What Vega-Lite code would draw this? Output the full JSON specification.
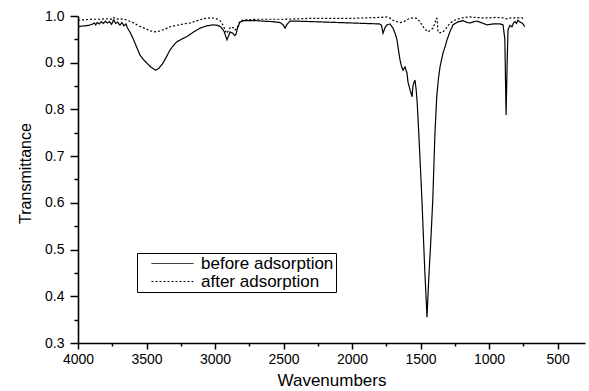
{
  "$schema": "https://vega.github.io/schema/vega-lite/v6.json",
  "autosize": {"type": "none"},
  "padding": {"left": 78, "top": 16, "right": 4, "bottom": 48},
  "width": 507,
  "height": 327,
  "background": "white",
  "config": {
    "view": {"stroke": null},
    "font": "Liberation Sans",
    "axis": {"grid": false, "domainColor": "black", "domainWidth": 1.6, "tickColor": "black", "tickWidth": 1.5, "labelColor": "black", "labelFontSize": 14, "labelFont": "Liberation Sans", "titleFont": "Liberation Sans", "titleColor": "black", "titleFontWeight": "normal", "labelOverlap": false, "labelFlush": false}
  },
  "datasets": {
    "spectra": [
      {"wn": 4000, "t": 0.977, "series": "before adsorption"},
      {"wn": 3980, "t": 0.978, "series": "before adsorption"},
      {"wn": 3950, "t": 0.979, "series": "before adsorption"},
      {"wn": 3920, "t": 0.98, "series": "before adsorption"},
      {"wn": 3900, "t": 0.982, "series": "before adsorption"},
      {"wn": 3880, "t": 0.985, "series": "before adsorption"},
      {"wn": 3870, "t": 0.981, "series": "before adsorption"},
      {"wn": 3860, "t": 0.986, "series": "before adsorption"},
      {"wn": 3845, "t": 0.983, "series": "before adsorption"},
      {"wn": 3830, "t": 0.988, "series": "before adsorption"},
      {"wn": 3815, "t": 0.984, "series": "before adsorption"},
      {"wn": 3800, "t": 0.989, "series": "before adsorption"},
      {"wn": 3785, "t": 0.985, "series": "before adsorption"},
      {"wn": 3770, "t": 0.988, "series": "before adsorption"},
      {"wn": 3755, "t": 0.982, "series": "before adsorption"},
      {"wn": 3740, "t": 0.992, "series": "before adsorption"},
      {"wn": 3725, "t": 0.984, "series": "before adsorption"},
      {"wn": 3710, "t": 0.987, "series": "before adsorption"},
      {"wn": 3695, "t": 0.98, "series": "before adsorption"},
      {"wn": 3680, "t": 0.986, "series": "before adsorption"},
      {"wn": 3665, "t": 0.979, "series": "before adsorption"},
      {"wn": 3650, "t": 0.983, "series": "before adsorption"},
      {"wn": 3640, "t": 0.975, "series": "before adsorption"},
      {"wn": 3620, "t": 0.965, "series": "before adsorption"},
      {"wn": 3600, "t": 0.953, "series": "before adsorption"},
      {"wn": 3570, "t": 0.932, "series": "before adsorption"},
      {"wn": 3547, "t": 0.916, "series": "before adsorption"},
      {"wn": 3520, "t": 0.906, "series": "before adsorption"},
      {"wn": 3497, "t": 0.899, "series": "before adsorption"},
      {"wn": 3470, "t": 0.891, "series": "before adsorption"},
      {"wn": 3433, "t": 0.884, "series": "before adsorption"},
      {"wn": 3410, "t": 0.888, "series": "before adsorption"},
      {"wn": 3380, "t": 0.899, "series": "before adsorption"},
      {"wn": 3350, "t": 0.915, "series": "before adsorption"},
      {"wn": 3329, "t": 0.927, "series": "before adsorption"},
      {"wn": 3300, "t": 0.938, "series": "before adsorption"},
      {"wn": 3278, "t": 0.945, "series": "before adsorption"},
      {"wn": 3240, "t": 0.951, "series": "before adsorption"},
      {"wn": 3205, "t": 0.956, "series": "before adsorption"},
      {"wn": 3160, "t": 0.965, "series": "before adsorption"},
      {"wn": 3110, "t": 0.974, "series": "before adsorption"},
      {"wn": 3060, "t": 0.979, "series": "before adsorption"},
      {"wn": 3015, "t": 0.981, "series": "before adsorption"},
      {"wn": 2980, "t": 0.98, "series": "before adsorption"},
      {"wn": 2960, "t": 0.977, "series": "before adsorption"},
      {"wn": 2935, "t": 0.968, "series": "before adsorption"},
      {"wn": 2920, "t": 0.955, "series": "before adsorption"},
      {"wn": 2913, "t": 0.949, "series": "before adsorption"},
      {"wn": 2900, "t": 0.958, "series": "before adsorption"},
      {"wn": 2891, "t": 0.966, "series": "before adsorption"},
      {"wn": 2870, "t": 0.963, "series": "before adsorption"},
      {"wn": 2855, "t": 0.958, "series": "before adsorption"},
      {"wn": 2847, "t": 0.961, "series": "before adsorption"},
      {"wn": 2835, "t": 0.975, "series": "before adsorption"},
      {"wn": 2818, "t": 0.987, "series": "before adsorption"},
      {"wn": 2790, "t": 0.99, "series": "before adsorption"},
      {"wn": 2767, "t": 0.99, "series": "before adsorption"},
      {"wn": 2700, "t": 0.99, "series": "before adsorption"},
      {"wn": 2650, "t": 0.989, "series": "before adsorption"},
      {"wn": 2580, "t": 0.988, "series": "before adsorption"},
      {"wn": 2526, "t": 0.986, "series": "before adsorption"},
      {"wn": 2505, "t": 0.982, "series": "before adsorption"},
      {"wn": 2489, "t": 0.974, "series": "before adsorption"},
      {"wn": 2475, "t": 0.982, "series": "before adsorption"},
      {"wn": 2453, "t": 0.989, "series": "before adsorption"},
      {"wn": 2400, "t": 0.989, "series": "before adsorption"},
      {"wn": 2300, "t": 0.988, "series": "before adsorption"},
      {"wn": 2200, "t": 0.987, "series": "before adsorption"},
      {"wn": 2100, "t": 0.986, "series": "before adsorption"},
      {"wn": 2000, "t": 0.985, "series": "before adsorption"},
      {"wn": 1900, "t": 0.984, "series": "before adsorption"},
      {"wn": 1800, "t": 0.983, "series": "before adsorption"},
      {"wn": 1785, "t": 0.98, "series": "before adsorption"},
      {"wn": 1774, "t": 0.963, "series": "before adsorption"},
      {"wn": 1760, "t": 0.975, "series": "before adsorption"},
      {"wn": 1745, "t": 0.981, "series": "before adsorption"},
      {"wn": 1723, "t": 0.983, "series": "before adsorption"},
      {"wn": 1701, "t": 0.974, "series": "before adsorption"},
      {"wn": 1685, "t": 0.962, "series": "before adsorption"},
      {"wn": 1672, "t": 0.949, "series": "before adsorption"},
      {"wn": 1660, "t": 0.925, "series": "before adsorption"},
      {"wn": 1650, "t": 0.906, "series": "before adsorption"},
      {"wn": 1640, "t": 0.893, "series": "before adsorption"},
      {"wn": 1628, "t": 0.884, "series": "before adsorption"},
      {"wn": 1614, "t": 0.891, "series": "before adsorption"},
      {"wn": 1599, "t": 0.878, "series": "before adsorption"},
      {"wn": 1592, "t": 0.859, "series": "before adsorption"},
      {"wn": 1575, "t": 0.84, "series": "before adsorption"},
      {"wn": 1562, "t": 0.827, "series": "before adsorption"},
      {"wn": 1555, "t": 0.852, "series": "before adsorption"},
      {"wn": 1541, "t": 0.863, "series": "before adsorption"},
      {"wn": 1533, "t": 0.845, "series": "before adsorption"},
      {"wn": 1526, "t": 0.82, "series": "before adsorption"},
      {"wn": 1519, "t": 0.784, "series": "before adsorption"},
      {"wn": 1505, "t": 0.7, "series": "before adsorption"},
      {"wn": 1490, "t": 0.606, "series": "before adsorption"},
      {"wn": 1470, "t": 0.46, "series": "before adsorption"},
      {"wn": 1453, "t": 0.355, "series": "before adsorption"},
      {"wn": 1440, "t": 0.44, "series": "before adsorption"},
      {"wn": 1425, "t": 0.52, "series": "before adsorption"},
      {"wn": 1411, "t": 0.606, "series": "before adsorption"},
      {"wn": 1395, "t": 0.749, "series": "before adsorption"},
      {"wn": 1382, "t": 0.827, "series": "before adsorption"},
      {"wn": 1370, "t": 0.865, "series": "before adsorption"},
      {"wn": 1358, "t": 0.891, "series": "before adsorption"},
      {"wn": 1336, "t": 0.921, "series": "before adsorption"},
      {"wn": 1320, "t": 0.935, "series": "before adsorption"},
      {"wn": 1307, "t": 0.949, "series": "before adsorption"},
      {"wn": 1285, "t": 0.967, "series": "before adsorption"},
      {"wn": 1263, "t": 0.981, "series": "before adsorption"},
      {"wn": 1230, "t": 0.987, "series": "before adsorption"},
      {"wn": 1190, "t": 0.99, "series": "before adsorption"},
      {"wn": 1160, "t": 0.986, "series": "before adsorption"},
      {"wn": 1139, "t": 0.985, "series": "before adsorption"},
      {"wn": 1110, "t": 0.988, "series": "before adsorption"},
      {"wn": 1088, "t": 0.989, "series": "before adsorption"},
      {"wn": 1050, "t": 0.985, "series": "before adsorption"},
      {"wn": 1015, "t": 0.981, "series": "before adsorption"},
      {"wn": 970, "t": 0.983, "series": "before adsorption"},
      {"wn": 920, "t": 0.983, "series": "before adsorption"},
      {"wn": 898, "t": 0.981, "series": "before adsorption"},
      {"wn": 885, "t": 0.95, "series": "before adsorption"},
      {"wn": 876, "t": 0.788, "series": "before adsorption"},
      {"wn": 868, "t": 0.9, "series": "before adsorption"},
      {"wn": 862, "t": 0.97, "series": "before adsorption"},
      {"wn": 848, "t": 0.98, "series": "before adsorption"},
      {"wn": 833, "t": 0.977, "series": "before adsorption"},
      {"wn": 820, "t": 0.986, "series": "before adsorption"},
      {"wn": 811, "t": 0.988, "series": "before adsorption"},
      {"wn": 800, "t": 0.984, "series": "before adsorption"},
      {"wn": 789, "t": 0.991, "series": "before adsorption"},
      {"wn": 775, "t": 0.987, "series": "before adsorption"},
      {"wn": 760, "t": 0.985, "series": "before adsorption"},
      {"wn": 750, "t": 0.982, "series": "before adsorption"},
      {"wn": 740, "t": 0.977, "series": "before adsorption"},
      {"wn": 4000, "t": 0.991, "series": "after adsorption"},
      {"wn": 3950, "t": 0.992, "series": "after adsorption"},
      {"wn": 3900, "t": 0.993, "series": "after adsorption"},
      {"wn": 3850, "t": 0.993, "series": "after adsorption"},
      {"wn": 3800, "t": 0.994, "series": "after adsorption"},
      {"wn": 3760, "t": 0.993, "series": "after adsorption"},
      {"wn": 3740, "t": 0.997, "series": "after adsorption"},
      {"wn": 3720, "t": 0.993, "series": "after adsorption"},
      {"wn": 3700, "t": 0.994, "series": "after adsorption"},
      {"wn": 3660, "t": 0.993, "series": "after adsorption"},
      {"wn": 3640, "t": 0.991, "series": "after adsorption"},
      {"wn": 3600, "t": 0.986, "series": "after adsorption"},
      {"wn": 3550, "t": 0.978, "series": "after adsorption"},
      {"wn": 3500, "t": 0.972, "series": "after adsorption"},
      {"wn": 3470, "t": 0.968, "series": "after adsorption"},
      {"wn": 3438, "t": 0.966, "series": "after adsorption"},
      {"wn": 3400, "t": 0.968, "series": "after adsorption"},
      {"wn": 3360, "t": 0.973, "series": "after adsorption"},
      {"wn": 3329, "t": 0.977, "series": "after adsorption"},
      {"wn": 3280, "t": 0.98, "series": "after adsorption"},
      {"wn": 3230, "t": 0.983, "series": "after adsorption"},
      {"wn": 3183, "t": 0.985, "series": "after adsorption"},
      {"wn": 3130, "t": 0.99, "series": "after adsorption"},
      {"wn": 3073, "t": 0.995, "series": "after adsorption"},
      {"wn": 3030, "t": 0.996, "series": "after adsorption"},
      {"wn": 3000, "t": 0.995, "series": "after adsorption"},
      {"wn": 2980, "t": 0.993, "series": "after adsorption"},
      {"wn": 2964, "t": 0.99, "series": "after adsorption"},
      {"wn": 2940, "t": 0.98, "series": "after adsorption"},
      {"wn": 2925, "t": 0.968, "series": "after adsorption"},
      {"wn": 2913, "t": 0.963, "series": "after adsorption"},
      {"wn": 2900, "t": 0.97, "series": "after adsorption"},
      {"wn": 2885, "t": 0.977, "series": "after adsorption"},
      {"wn": 2869, "t": 0.975, "series": "after adsorption"},
      {"wn": 2855, "t": 0.97, "series": "after adsorption"},
      {"wn": 2840, "t": 0.973, "series": "after adsorption"},
      {"wn": 2825, "t": 0.985, "series": "after adsorption"},
      {"wn": 2811, "t": 0.99, "series": "after adsorption"},
      {"wn": 2780, "t": 0.992, "series": "after adsorption"},
      {"wn": 2700, "t": 0.993, "series": "after adsorption"},
      {"wn": 2600, "t": 0.993, "series": "after adsorption"},
      {"wn": 2500, "t": 0.993, "series": "after adsorption"},
      {"wn": 2400, "t": 0.994, "series": "after adsorption"},
      {"wn": 2300, "t": 0.995, "series": "after adsorption"},
      {"wn": 2200, "t": 0.995, "series": "after adsorption"},
      {"wn": 2100, "t": 0.995, "series": "after adsorption"},
      {"wn": 2000, "t": 0.995, "series": "after adsorption"},
      {"wn": 1900, "t": 0.996, "series": "after adsorption"},
      {"wn": 1800, "t": 0.997, "series": "after adsorption"},
      {"wn": 1745, "t": 0.998, "series": "after adsorption"},
      {"wn": 1720, "t": 0.995, "series": "after adsorption"},
      {"wn": 1701, "t": 0.991, "series": "after adsorption"},
      {"wn": 1675, "t": 0.988, "series": "after adsorption"},
      {"wn": 1650, "t": 0.986, "series": "after adsorption"},
      {"wn": 1620, "t": 0.988, "series": "after adsorption"},
      {"wn": 1600, "t": 0.992, "series": "after adsorption"},
      {"wn": 1577, "t": 0.995, "series": "after adsorption"},
      {"wn": 1550, "t": 0.996, "series": "after adsorption"},
      {"wn": 1526, "t": 0.995, "series": "after adsorption"},
      {"wn": 1505, "t": 0.988, "series": "after adsorption"},
      {"wn": 1482, "t": 0.977, "series": "after adsorption"},
      {"wn": 1460, "t": 0.97, "series": "after adsorption"},
      {"wn": 1446, "t": 0.966, "series": "after adsorption"},
      {"wn": 1430, "t": 0.969, "series": "after adsorption"},
      {"wn": 1409, "t": 0.974, "series": "after adsorption"},
      {"wn": 1395, "t": 0.985, "series": "after adsorption"},
      {"wn": 1385, "t": 0.995, "series": "after adsorption"},
      {"wn": 1380, "t": 0.995, "series": "after adsorption"},
      {"wn": 1375, "t": 0.975, "series": "after adsorption"},
      {"wn": 1373, "t": 0.966, "series": "after adsorption"},
      {"wn": 1360, "t": 0.964, "series": "after adsorption"},
      {"wn": 1336, "t": 0.966, "series": "after adsorption"},
      {"wn": 1310, "t": 0.975, "series": "after adsorption"},
      {"wn": 1285, "t": 0.985, "series": "after adsorption"},
      {"wn": 1250, "t": 0.991, "series": "after adsorption"},
      {"wn": 1212, "t": 0.995, "series": "after adsorption"},
      {"wn": 1180, "t": 0.997, "series": "after adsorption"},
      {"wn": 1139, "t": 0.998, "series": "after adsorption"},
      {"wn": 1100, "t": 0.997, "series": "after adsorption"},
      {"wn": 1050, "t": 0.996, "series": "after adsorption"},
      {"wn": 1000, "t": 0.996, "series": "after adsorption"},
      {"wn": 950, "t": 0.997, "series": "after adsorption"},
      {"wn": 900, "t": 0.996, "series": "after adsorption"},
      {"wn": 870, "t": 0.994, "series": "after adsorption"},
      {"wn": 840, "t": 0.996, "series": "after adsorption"},
      {"wn": 800, "t": 0.996, "series": "after adsorption"},
      {"wn": 760, "t": 0.996, "series": "after adsorption"},
      {"wn": 752, "t": 0.995, "series": "after adsorption"}
    ]
  },
  "data": {"name": "spectra"},
  "mark": {"type": "line", "color": "black", "strokeWidth": 1.2, "interpolate": "linear"},
  "encoding": {
    "x": {
      "field": "wn", "type": "quantitative", "sort": null,
      "scale": {"domain": [300, 4000], "reverse": true, "nice": false, "zero": false},
      "axis": {
        "title": "Wavenumbers", "titleFontSize": 17, "titlePadding": 6,
        "values": [4000, 3750, 3500, 3250, 3000, 2750, 2500, 2250, 2000, 1750, 1500, 1250, 1000, 750, 500],
        "format": "d",
        "labelExpr": "datum.value % 500 === 0 ? datum.label : ''",
        "tickSize": {"condition": {"test": "datum.value % 500 === 0", "value": 6}, "value": 3},
        "labelPadding": 3
      }
    },
    "y": {
      "field": "t", "type": "quantitative",
      "scale": {"domain": [0.3, 1.0], "nice": false, "zero": false},
      "axis": {
        "title": "Transmittance", "titleFontSize": 16, "titlePadding": 11, "titleY": 157,
        "values": [0.3, 0.35, 0.4, 0.45, 0.5, 0.55, 0.6, 0.65, 0.7, 0.75, 0.8, 0.85, 0.9, 0.95, 1.0],
        "labelExpr": "round(datum.value * 100) % 10 === 0 ? format(datum.value, '.1f') : ''",
        "tickSize": {"condition": {"test": "round(datum.value * 100) % 10 === 0", "value": 8}, "value": 4},
        "labelPadding": 6
      }
    },
    "strokeDash": {
      "field": "series", "type": "nominal",
      "scale": {"domain": ["before adsorption", "after adsorption"], "range": [[1, 0], [2, 2]]},
      "legend": {
        "orient": "none", "legendX": 59, "legendY": 237, "title": null,
        "symbolType": "M0.571,0H6.571", "symbolSize": 196, "symbolStrokeColor": "black", "symbolStrokeWidth": 1,
        "labelFontSize": 17, "labelColor": "black", "labelOffset": 45, "labelLimit": 400,
        "labelExpr": "datum.label + '\u00a0\u00a0\u00a0\u00a0\u00a0'",
        "strokeColor": "black", "fillColor": "white", "padding": 2, "rowPadding": 0
      }
    }
  }
}
